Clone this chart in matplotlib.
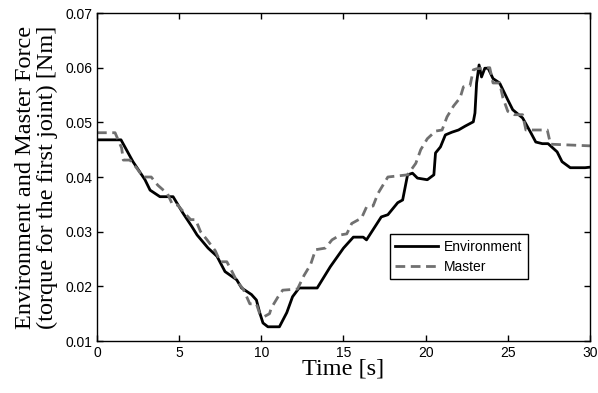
import numpy as np
import matplotlib
matplotlib.use('Agg')
from matplotlib import pyplot as plt

# Environment torque (black solid)
env_t = [0, 1.46, 2.19, 2.92, 3.23, 3.83, 4.63, 5.23, 5.78, 6.09, 6.76, 7.3, 7.79,
         8.5, 8.8, 9.4, 9.7, 9.9, 10.1, 10.4, 11.1, 11.55, 11.9, 12.3, 13.4, 14.2,
         15.0, 15.6, 16.2, 16.4, 17.3, 17.7, 18.3, 18.6, 18.9, 19.2, 19.5, 20.1,
         20.5, 20.6, 20.9, 21.2, 21.6, 22.0, 22.4, 22.9, 23.0, 23.1, 23.25, 23.4,
         23.6, 23.8, 24.1, 24.5, 25.0, 25.3, 25.9, 26.4, 26.7, 27.1, 27.45, 28.0,
         28.3, 28.8, 29.7, 30.0]
env_v = [0.0468, 0.0468, 0.0428, 0.0395, 0.0376, 0.0364, 0.0364, 0.0334, 0.0309,
         0.0294, 0.0270, 0.0255, 0.0227, 0.0212, 0.0197, 0.0185, 0.0175, 0.0152,
         0.0133, 0.0126, 0.0126, 0.0152, 0.0181, 0.0197, 0.0197, 0.0236, 0.0270,
         0.0290, 0.0290, 0.0285, 0.0327, 0.0331, 0.0353, 0.0358, 0.0404, 0.0407,
         0.0398, 0.0395, 0.0404, 0.0444, 0.0455, 0.0477, 0.0482, 0.0486, 0.0493,
         0.0501, 0.0517, 0.0572, 0.0605, 0.0583, 0.0599, 0.0599, 0.0580, 0.0572,
         0.0541, 0.0523, 0.0508, 0.0481, 0.0464, 0.0461, 0.0461, 0.0446, 0.0428,
         0.0417, 0.0417, 0.0418]

# Master torque (gray dashed)
mas_t = [0, 1.1, 1.5, 1.6, 2.0, 2.4, 2.8, 3.3, 3.7, 4.3, 4.6, 4.9, 5.3, 5.7, 6.0,
         6.3, 6.7, 7.2, 7.5, 7.9, 8.2, 8.5, 8.9, 9.3, 9.7, 9.9, 10.2, 10.5, 10.6,
         11.0, 11.3, 12.2, 12.6, 13.0, 13.3, 13.9, 14.3, 14.8, 15.2, 15.5, 16.1,
         16.4, 16.8, 17.1, 17.4, 17.7, 18.9, 19.4, 19.7, 20.1, 20.6, 21.0, 21.3,
         21.7, 22.1, 22.3, 22.7, 22.9, 23.1, 23.9, 24.1, 24.5, 24.7, 25.0, 25.4,
         25.9, 26.1, 27.4, 27.6, 30.0]
mas_v = [0.0481, 0.0481, 0.0453, 0.0431, 0.0431, 0.0417, 0.0400, 0.0400, 0.0385,
         0.0369, 0.0349, 0.0349, 0.0335, 0.0322, 0.0322, 0.0300, 0.0285, 0.0265,
         0.0245, 0.0245, 0.0228, 0.0210, 0.0195, 0.0168, 0.0168, 0.0150, 0.0145,
         0.0150, 0.0160, 0.0180, 0.0193, 0.0195, 0.0220, 0.0240, 0.0267, 0.0270,
         0.0285, 0.0294, 0.0296, 0.0315, 0.0325, 0.0345, 0.0347, 0.0370, 0.0385,
         0.0400, 0.0404, 0.0425, 0.0450, 0.0470, 0.0484, 0.0486, 0.0510, 0.0530,
         0.0545, 0.0565, 0.0567, 0.0596, 0.0598, 0.0600, 0.0572, 0.0572, 0.0545,
         0.0520, 0.0514, 0.0514, 0.0486, 0.0486, 0.0460, 0.0457]

serif = ['Liberation Serif', 'DejaVu Serif']
plt.rcParams['font.family'] = ['Liberation Sans', 'DejaVu Sans']

fig = plt.figure(figsize=(5.98, 3.93), dpi=100)
ax = fig.add_axes([0.1622, 0.1323, 0.8244, 0.8346])

ax.plot(env_t, env_v, color='black', lw=2, label='Environment')
ax.plot(mas_t, mas_v, color='#707070', lw=2, dashes=(3.5, 2), label='Master')

ax.set_xlim(0, 30)
ax.set_ylim(0.01, 0.07)
ax.set_xticks(np.arange(0, 31, 5))
ax.set_yticks(np.arange(0.01, 0.0701, 0.01))
ax.set_yticklabels(['0.01', '0.02', '0.03', '0.04', '0.05', '0.06', '0.07'])
ax.tick_params(direction='in', top=True, right=True, labelsize=10, length=4, width=1)
for s in ax.spines.values():
    s.set_linewidth(1)

ax.set_xlabel('Time [s]', family=serif, fontsize=17.5, labelpad=-1)
ax.set_ylabel('Environment and Master Force\n(torque for the first joint) [Nm]',
              family=serif, fontsize=17.5, linespacing=1.05, labelpad=5)

leg = ax.legend(loc='upper left', bbox_to_anchor=(0.594, 0.325), fontsize=10,
                handlelength=3.1, fancybox=False, framealpha=1, edgecolor='black',
                borderpad=0.4, labelspacing=0.4, handletextpad=0.4, borderaxespad=0)
leg.get_frame().set_linewidth(1)

fig.savefig('out.png', dpi=100)
